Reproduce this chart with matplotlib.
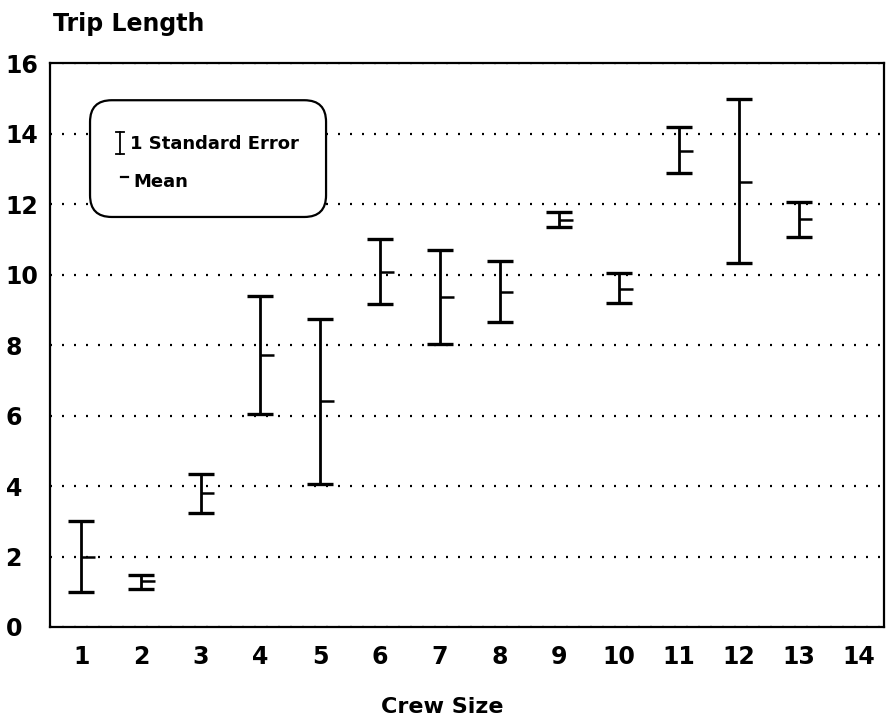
import matplotlib
matplotlib.use("Agg")
import matplotlib.pyplot as plt
from matplotlib.patches import FancyBboxPatch
import numpy as np

crew = [1, 2, 3, 4, 5, 6, 7, 8, 9, 10, 11, 12, 13]
se_hi = [3.0, 1.48, 4.35, 9.39, 8.74, 11.0, 10.70, 10.37, 11.76, 10.04, 14.18, 14.97, 12.05]
se_lo = [1.0, 1.09, 3.23, 6.03, 4.05, 9.15, 8.02, 8.64, 11.36, 9.18, 12.87, 10.32, 11.07]
mean = [2.0, 1.30, 3.79, 7.72, 6.42, 10.08, 9.37, 9.51, 11.55, 9.60, 13.51, 12.62, 11.57]

xticks = list(range(1, 15))
yticks = list(range(0, 17, 2))

plt.rcParams['font.family'] = ['DejaVu Sans']

fig = plt.figure(figsize=(8.86, 7.25), dpi=100)
ax = fig.add_axes([50/886, 98/725, 834/886, 564/725])

x = np.array(crew)
m = np.array(mean)
yerr = [m - np.array(se_lo), np.array(se_hi) - m]
ax.errorbar(x, m, yerr=yerr, fmt='none', ecolor='black', elinewidth=2.0,
            capsize=9.5, capthick=2.4, zorder=3)
ax.hlines(m, x, x + 0.23, colors='black', lw=1.8, zorder=3)

ax.set_xlim(0.48, 14.43)
ax.set_ylim(0, 16)
ax.set_xticks(xticks)
ax.set_yticks(yticks)
ax.tick_params(axis='both', length=0, labelsize=17)
ax.tick_params(axis='x', pad=13)
ax.tick_params(axis='y', pad=32)
for lab in ax.get_xticklabels() + ax.get_yticklabels():
    lab.set_fontweight('bold')
for lab in ax.get_yticklabels():
    lab.set_horizontalalignment('left')

ax.yaxis.grid(True, color='black', lw=1.6, linestyle=(0, (0.9, 4.5)))
ax.set_axisbelow(True)
for s in ax.spines.values():
    s.set_linewidth(1.6)

# legend box
box = FancyBboxPatch((0.048, 0.727), 0.283, 0.207,
                     boxstyle="round,pad=0,rounding_size=0.026",
                     mutation_aspect=834/564, transform=ax.transAxes,
                     facecolor='white', edgecolor='black', lw=1.6, zorder=4)
ax.add_patch(box)
ax.plot([0.0839, 0.0839], [0.839, 0.877], color='black', lw=1.3,
        transform=ax.transAxes, zorder=5)
for yy in (0.839, 0.877):
    ax.plot([0.079, 0.089], [yy, yy], color='black', lw=1.3,
            transform=ax.transAxes, zorder=5)
ax.text(0.096, 0.856, "1 Standard Error", transform=ax.transAxes,
        fontsize=13, fontweight='bold', va='center', ha='left', zorder=5)
ax.plot([0.085, 0.0935], [0.797, 0.797], color='black', lw=1.6,
        transform=ax.transAxes, zorder=5)
ax.text(0.0995, 0.789, "Mean", transform=ax.transAxes,
        fontsize=13, fontweight='bold', va='center', ha='left', zorder=5)

fig.text(53/886, 1 - 31/725, "Trip Length", fontsize=17, fontweight='bold',
         ha='left', va='baseline')
fig.text(442/886, 1 - 707/725, "Crew Size", fontsize=16, fontweight='bold',
         ha='center', va='center')

fig.savefig("out.png", dpi=100)
